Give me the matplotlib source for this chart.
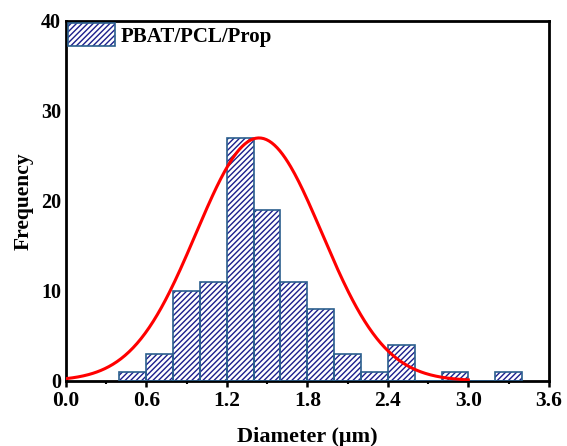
import numpy as np
import matplotlib
matplotlib.use("Agg")
import matplotlib.pyplot as plt
from matplotlib.patches import Rectangle

# Histogram data (bin width 0.2 um)
bin_left = [0.4, 0.6, 0.8, 1.0, 1.2, 1.4, 1.6, 1.8, 2.0, 2.2, 2.4, 2.6, 2.8, 3.0, 3.2]
counts = [1, 3, 10, 11, 27, 19, 11, 8, 3, 1, 4, 0, 1, 0, 1]
bin_width = 0.2

# Gaussian fit parameters (peak, centre, width)
fit_amp = 27.0
fit_mu = 1.44
fit_sigma = 0.47
fit_range = (0.0, 3.0)

xticks = [0.0, 0.6, 1.2, 1.8, 2.4, 3.0, 3.6]
yticks = [0, 10, 20, 30, 40]

hatch_col = '#1c1f8c'
edge_col = '#2b5f8e'

plt.rcParams['font.family'] = ['Liberation Serif', 'DejaVu Serif']
plt.rcParams['font.weight'] = 'bold'
plt.rcParams['hatch.linewidth'] = 1.0

fig = plt.figure(figsize=(5.67, 4.46), dpi=100)
ax = fig.add_axes([0.116, 0.146, 0.852, 0.807])

centers = np.array(bin_left) + bin_width / 2
# hatch layer (hatch takes the edge colour)
ax.bar(centers, counts, width=bin_width, color='white', edgecolor=hatch_col,
       hatch='//////', linewidth=0, zorder=2)
# outline layer
ax.bar(centers, counts, width=bin_width, fill=False, edgecolor=edge_col,
       linewidth=1.2, zorder=3)

xf = np.linspace(fit_range[0], fit_range[1], 300)
yf = fit_amp * np.exp(-(xf - fit_mu) ** 2 / (2 * fit_sigma ** 2))
ax.plot(xf, yf, color='red', linewidth=2.2, zorder=4)

ax.set_xlim(0, 3.6)
ax.set_ylim(0, 40)
ax.set_xticks(xticks)
ax.set_xticklabels([f"{v:.1f}" for v in xticks])
ax.set_xticks(np.arange(0.3, 3.6, 0.6), minor=True)
ax.set_yticks(yticks)
ax.tick_params(axis='both', width=1.8, length=4, direction='out')
ax.tick_params(axis='x', labelsize=15.5)
ax.tick_params(axis='y', labelsize=14.5, length=0)
ax.tick_params(axis='x', which='minor', width=1.5, length=2)
for lab in ax.get_xticklabels() + ax.get_yticklabels():
    lab.set_fontweight('bold')
for sp in ax.spines.values():
    sp.set_linewidth(2.0)

ax.set_xlabel('Diameter (μm)', fontsize=16, fontweight='bold', labelpad=11)
ax.set_ylabel('Frequency', fontsize=15.5, fontweight='bold', labelpad=5)

# legend patch: hatch + outline overlaid
h1 = Rectangle((0, 0), 1, 1, facecolor='white', edgecolor=hatch_col, hatch='//////', linewidth=0)
h2 = Rectangle((0, 0), 1, 1, fill=False, edgecolor=edge_col, linewidth=1.2)
leg = ax.legend([(h1, h2)], ['PBAT/PCL/Prop'], loc='upper left', frameon=False,
                prop={'size': 15, 'weight': 'bold'}, handlelength=2.25,
                handleheight=1.35, borderaxespad=0.0, borderpad=0.1, handletextpad=0.3)

fig.savefig('out.png', dpi=100)
